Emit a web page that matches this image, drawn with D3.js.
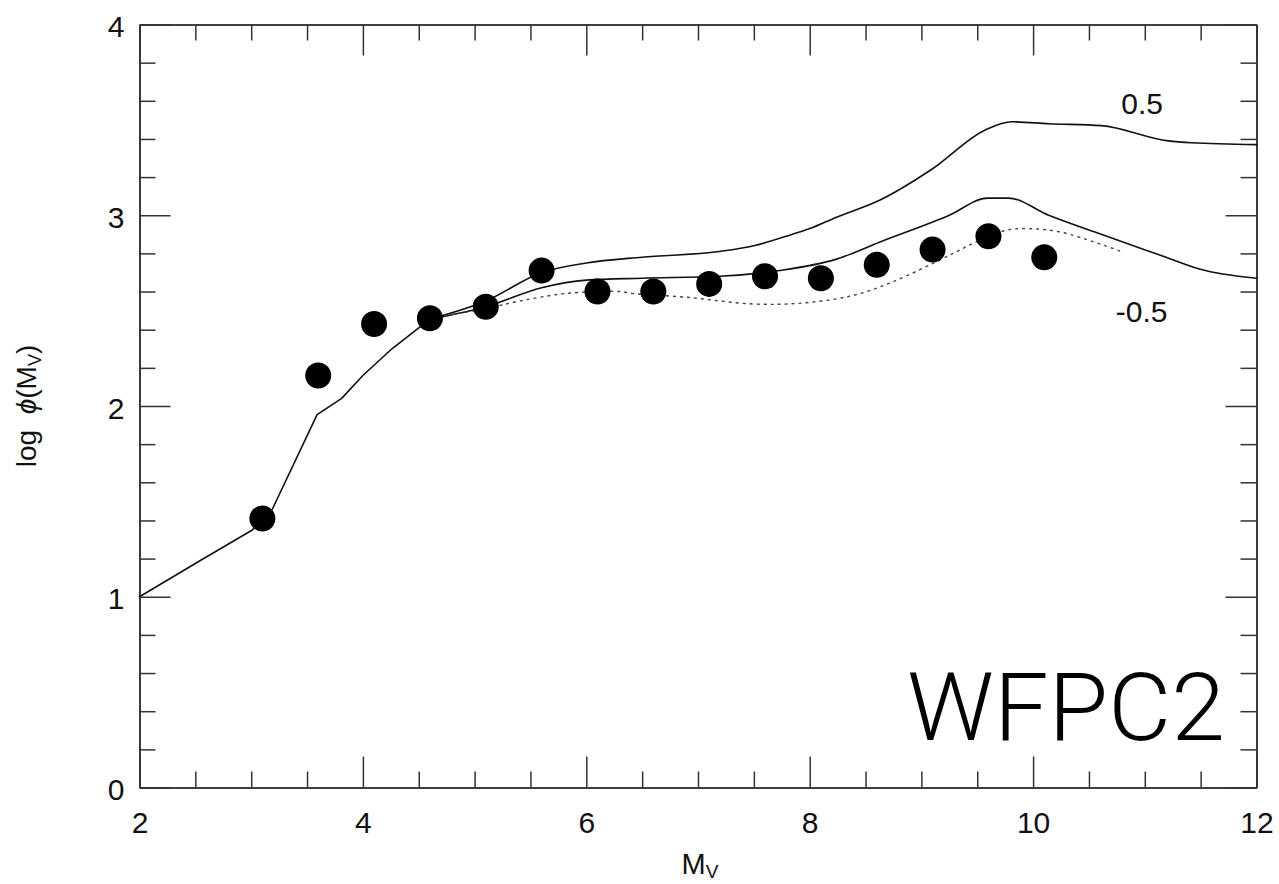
<!DOCTYPE html>
<html>
<head>
<meta charset="utf-8">
<script src="https://cdn.jsdelivr.net/npm/d3@7"></script>
<style>
  html, body { margin: 0; padding: 0; background: #fff; }
  svg { display: block; }
</style>
</head>
<body>
<svg id="chart" width="1279" height="884"></svg>
<script>
// ---- data ----
const obsMv   = [3.1, 3.6, 4.1, 4.6, 5.1, 5.6, 6.1, 6.6, 7.1, 7.6, 8.1, 8.6, 9.1, 9.6, 10.1];
const obsPhi  = [1.41, 2.16, 2.43, 2.46, 2.52, 2.71, 2.60, 2.60, 2.64, 2.68, 2.67, 2.74, 2.82, 2.89, 2.78];

const baseMv  = [2.0, 2.56, 3.01, 3.19, 3.59, 3.81, 4.0, 4.26, 4.6];
const basePhi = [1.0, 1.195, 1.35, 1.46, 1.955, 2.04, 2.16, 2.30, 2.455];

const upperMv  = [4.6, 5.1, 5.6, 6.0, 6.5, 7.19, 7.5, 7.79, 8.0, 8.24, 8.63, 9.09, 9.58, 9.81, 10.14, 10.61, 11.21, 11.42, 12.0];
const upperPhi = [2.455, 2.55, 2.70, 2.75, 2.78, 2.81, 2.84, 2.89, 2.93, 2.99, 3.08, 3.24, 3.45, 3.49, 3.48, 3.47, 3.39, 3.38, 3.37];

const lowerMv  = [4.6, 5.1, 5.6, 6.0, 6.5, 7.19, 7.73, 8.24, 8.63, 9.25, 9.59, 9.78, 10.14, 10.61, 11.19, 11.48, 12.0];
const lowerPhi = [2.455, 2.52, 2.62, 2.66, 2.67, 2.68, 2.71, 2.77, 2.86, 3.00, 3.09, 3.09, 3.00, 2.90, 2.78, 2.72, 2.67];

const dotMv  = [4.55, 4.71, 5.1, 5.4, 5.82, 6.30, 6.41, 6.90, 7.49, 7.94, 8.39, 8.74, 9.25, 9.49, 9.75, 9.96, 10.26, 10.79];
const dotPhi = [2.44, 2.47, 2.51, 2.55, 2.59, 2.60, 2.59, 2.57, 2.535, 2.54, 2.58, 2.65, 2.79, 2.86, 2.92, 2.93, 2.91, 2.81];

const xMajor = [2, 4, 6, 8, 10, 12];
const xMinor = [2.5, 3, 3.5, 4.5, 5, 5.5, 6.5, 7, 7.5, 8.5, 9, 9.5, 10.5, 11, 11.5];
const yMajor = [0, 1, 2, 3, 4];
const yMinor = [0.2, 0.4, 0.6, 0.8, 1.2, 1.4, 1.6, 1.8, 2.2, 2.4, 2.6, 2.8, 3.2, 3.4, 3.6, 3.8];

const curveLabels = [
  { text: "0.5",  mv: 10.79, phi: 3.53 },
  { text: "-0.5", mv: 10.74, phi: 2.44 }
];

// ---- layout ----
const svg = d3.select("#chart");
const L = 139.5, R = 1256.5, T = 24.5, B = 787.5;
const x = d3.scaleLinear().domain([2, 12]).range([L, R]);
const y = d3.scaleLinear().domain([0, 4]).range([B, T]);

const FONT = "'Liberation Sans', Arial, Helvetica, sans-serif";
const axisColor = "#333";

function styleAxis(g) {
  g.select(".domain").attr("stroke", axisColor).attr("stroke-width", 1.6);
  g.selectAll(".tick line").attr("stroke", axisColor).attr("stroke-width", 1.5);
  g.selectAll("text").attr("font-family", FONT).attr("font-size", 30).attr("fill", "#111");
}

// minor ticks (no labels)
svg.append("g").attr("transform", `translate(0,${B})`)
  .call(d3.axisBottom(x).tickValues(xMinor).tickSizeInner(-16).tickSizeOuter(0).tickFormat(""))
  .call(styleAxis);
svg.append("g").attr("transform", `translate(0,${T})`)
  .call(d3.axisTop(x).tickValues(xMinor).tickSizeInner(-16).tickSizeOuter(0).tickFormat(""))
  .call(styleAxis);
svg.append("g").attr("transform", `translate(${L},0)`)
  .call(d3.axisLeft(y).tickValues(yMinor).tickSizeInner(-16).tickSizeOuter(0).tickFormat(""))
  .call(styleAxis);
svg.append("g").attr("transform", `translate(${R},0)`)
  .call(d3.axisRight(y).tickValues(yMinor).tickSizeInner(-16).tickSizeOuter(0).tickFormat(""))
  .call(styleAxis);

// major ticks
svg.append("g").attr("transform", `translate(0,${B})`)
  .call(d3.axisBottom(x).tickValues(xMajor).tickSizeInner(-31).tickSizeOuter(0).tickPadding(24).tickFormat(d3.format("d")))
  .call(styleAxis);
svg.append("g").attr("transform", `translate(0,${T})`)
  .call(d3.axisTop(x).tickValues(xMajor).tickSizeInner(-31).tickSizeOuter(0).tickFormat(""))
  .call(styleAxis);
const yAx = svg.append("g").attr("transform", `translate(${L},0)`)
  .call(d3.axisLeft(y).tickValues(yMajor).tickSizeInner(-31).tickSizeOuter(0).tickPadding(15).tickFormat(d3.format("d")))
  .call(styleAxis);
yAx.selectAll("text").attr("dy", "0.40em");
svg.append("g").attr("transform", `translate(${R},0)`)
  .call(d3.axisRight(y).tickValues(yMajor).tickSizeInner(-31).tickSizeOuter(0).tickFormat(""))
  .call(styleAxis);

// ---- curves ----
const line = d3.line().x(d => x(d[0])).y(d => y(d[1])).curve(d3.curveLinear);
const mono = d3.line().x(d => x(d[0])).y(d => y(d[1])).curve(d3.curveMonotoneX);
const smooth = d3.line().x(d => x(d[0])).y(d => y(d[1])).curve(d3.curveCatmullRom.alpha(0.5));
const zip = (a, b) => a.map((v, i) => [v, b[i]]);

const curveStyle = p => p.attr("fill", "none").attr("stroke", "#111")
  .attr("stroke-width", 1.6).attr("stroke-linejoin", "round").attr("stroke-linecap", "round");

// shared low-luminosity part (piecewise linear)
svg.append("path").datum(zip(baseMv, basePhi)).attr("d", line).call(curveStyle);
// upper (0.5) and lower (-0.5) branches
svg.append("path").datum(zip(upperMv, upperPhi)).attr("d", mono).call(curveStyle);
svg.append("path").datum(zip(lowerMv, lowerPhi)).attr("d", mono).call(curveStyle);
// dotted model
svg.append("path").datum(zip(dotMv, dotPhi)).attr("d", smooth)
  .attr("fill", "none").attr("stroke", "#444").attr("stroke-width", 1.4)
  .attr("stroke-dasharray", "3,4");

// ---- observed points ----
svg.append("g").selectAll("circle").data(zip(obsMv, obsPhi)).join("circle")
  .attr("cx", d => x(d[0])).attr("cy", d => y(d[1])).attr("r", 13).attr("fill", "#000");

// ---- curve labels ----
svg.append("g").selectAll("text").data(curveLabels).join("text")
  .attr("x", d => x(d.mv)).attr("y", d => y(d.phi))
  .attr("font-family", FONT).attr("font-size", 30).attr("fill", "#111")
  .text(d => d.text);

// ---- axis titles ----
const xt = svg.append("text").attr("x", 700).attr("y", 874)
  .attr("text-anchor", "middle").attr("font-family", FONT).attr("font-size", 29).attr("fill", "#111");
xt.append("tspan").text("M");
xt.append("tspan").attr("font-size", 19).attr("dy", 4).text("V");

const yt = svg.append("text")
  .attr("transform", `translate(36,${(T + B) / 2}) rotate(-90)`)
  .attr("text-anchor", "middle").attr("font-family", FONT).attr("font-size", 28).attr("fill", "#111");
yt.append("tspan").text("log\u00a0\u00a0");
yt.append("tspan").attr("font-style", "italic").text("\u03d5");
yt.append("tspan").text("(M");
yt.append("tspan").attr("font-size", 18).attr("dy", 5).text("V");
yt.append("tspan").attr("dy", -5).text(")");

// ---- panel label ----
svg.append("text").attr("x", 907).attr("y", 740)
  .attr("font-family", "Roboto, 'Open Sans', sans-serif").attr("font-weight", 300)
  .attr("font-size", 94).attr("fill", "#000")
  .attr("textLength", 318).attr("lengthAdjust", "spacingAndGlyphs")
  .text("WFPC2");
</script>
</body>
</html>
